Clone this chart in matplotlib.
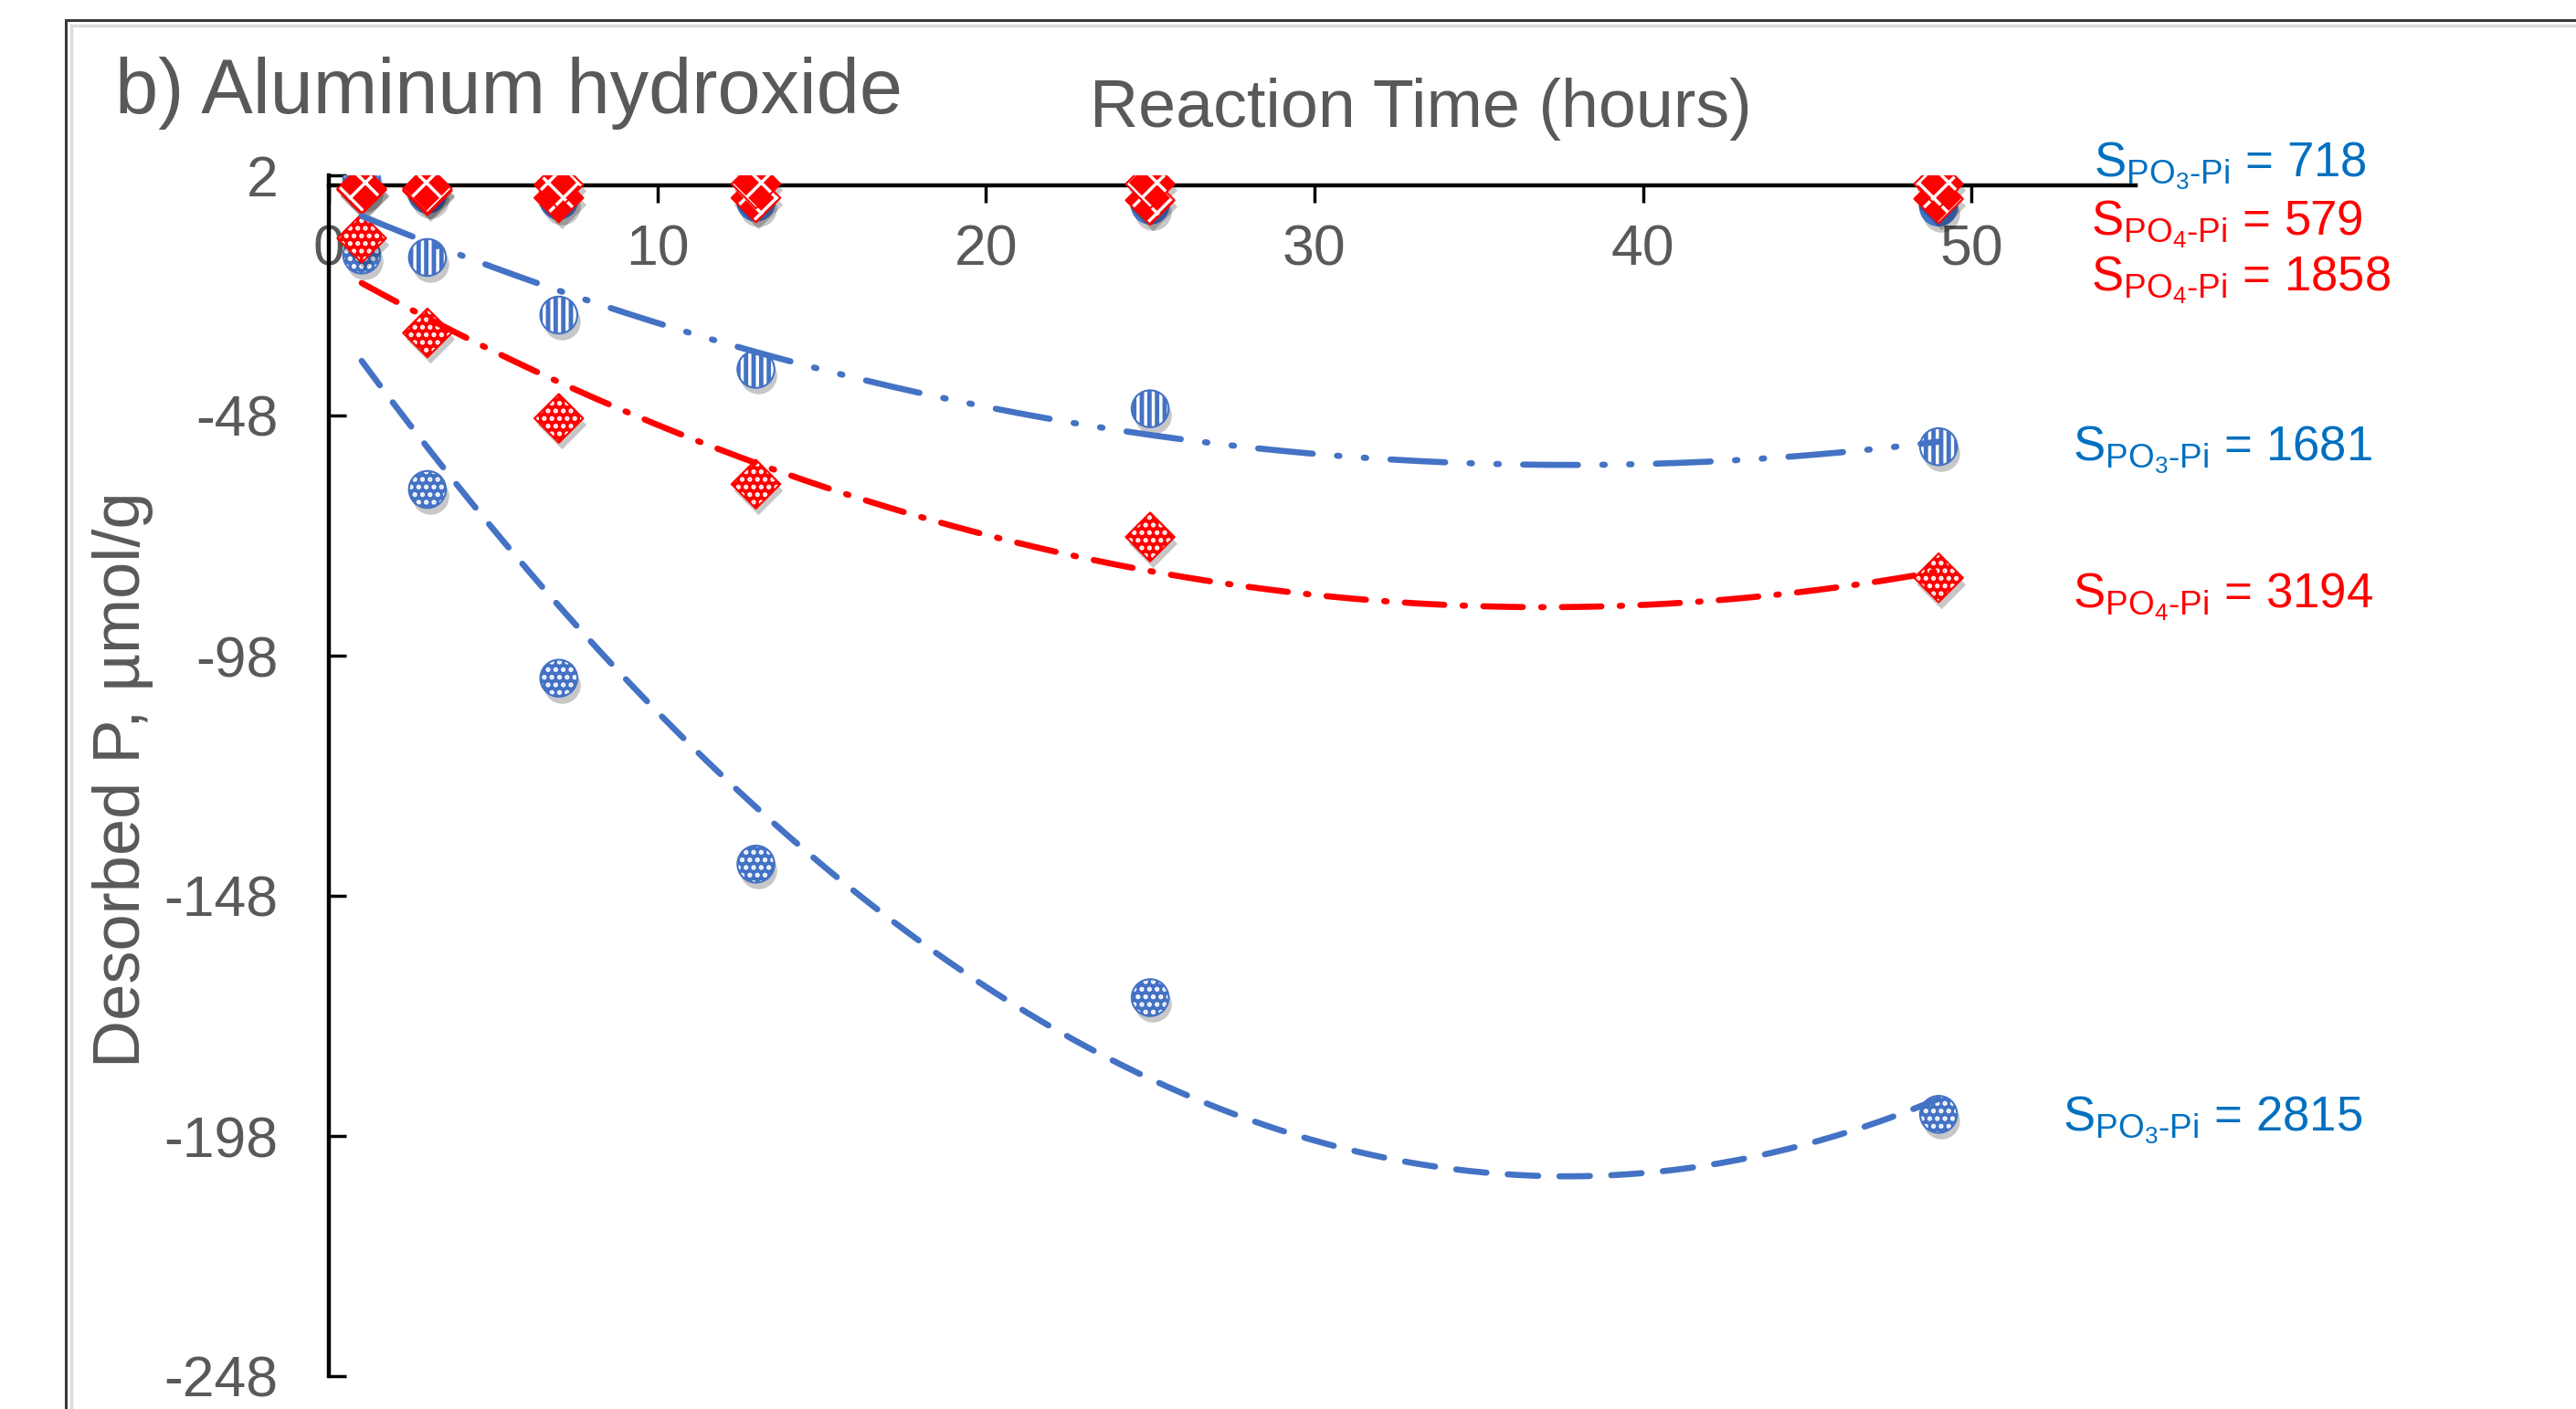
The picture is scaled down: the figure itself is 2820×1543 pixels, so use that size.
import numpy as np
import matplotlib
matplotlib.use('Agg')
import matplotlib.pyplot as plt
import matplotlib.transforms as mtransforms
from matplotlib.patches import Rectangle

plt.rcParams['font.family'] = ['Liberation Sans', 'DejaVu Sans']
plt.rcParams['mathtext.fontset'] = 'custom'
plt.rcParams['mathtext.rm'] = 'Liberation Sans'
plt.rcParams['mathtext.it'] = 'Liberation Sans'
plt.rcParams['axes.unicode_minus'] = False
plt.rcParams['hatch.linewidth'] = 2.5

# reaction times (hours) and desorbed P (umol/g)
hours = [1, 3, 7, 13, 25, 49]
po3_718 = [-0.5, -1.9, -3.2, -3.6, -4.2, -4.6]
po3_1681 = [1.0, -15.1, -27.1, -38.4, -46.6, -54.5]
po3_2815 = [-14.6, -63.4, -102.7, -141.4, -169.2, -193.5]
po4_579 = [-0.8, -0.8, 0.0, 0.2, 0.2, 0.2]
po4_1858 = [-1.0, -1.2, -2.7, -2.7, -3.2, -2.9]
po4_3194 = [-11.1, -30.8, -48.6, -62.3, -73.3, -81.8]

x_ticks = [0, 10, 20, 30, 40, 50]
y_ticks = [2, -48, -98, -148, -198, -248]

BLUE = '#4472C4'
RED = '#FF0000'
TXT_BLUE = '#0070C0'
GRAY = '#595959'

W, H = 2820, 1543
fig = plt.figure(figsize=(W / 100, H / 100), dpi=100)
ax = fig.add_axes([360 / W, 1 - 1507 / H, (2338 - 360) / W, (1507 - 192) / H])
ax.set_xlim(0, 55)
ax.set_ylim(-248, 2)

# outer frame of the chart area
fig.add_artist(Rectangle((72 / W, -0.1), 1.2, 1 - 22 / H + 0.1, transform=fig.transFigure,
                         fill=False, edgecolor='#3a3a3a', lw=2.2))
fig.add_artist(Rectangle((78 / W, -0.1), 1.2, 1 - 28 / H + 0.1, transform=fig.transFigure,
                         fill=False, edgecolor='#dcdcdc', lw=2.5))

shadow = mtransforms.offset_copy(ax.transData, fig=fig, x=2, y=-5, units='points')


def markers(y, marker, color, hatch, size, z):
    ax.scatter(hours, y, s=size, marker=marker, color='k', alpha=0.22, lw=0,
               transform=shadow, zorder=z - 0.5)
    ax.scatter(hours, y, s=size, marker=marker, facecolor=color, edgecolor='white',
               hatch=hatch, lw=0, zorder=z)
    ax.scatter(hours, y, s=size, marker=marker, facecolor='none', edgecolor=color,
               lw=1.5, zorder=z + 0.1)


def trend(y, color, dashes, z):
    c = np.polyfit(hours, y, 2)
    xs = np.linspace(hours[0], hours[-1], 300)
    ax.plot(xs, np.polyval(c, xs), color=color, lw=4.8, dashes=dashes,
            solid_capstyle='round', dash_capstyle='round', zorder=z)


circ = 850
diam = 740
markers(po3_2815, 'o', BLUE, '..', circ, 3)
markers(po3_1681, 'o', BLUE, '||', circ, 3.2)
markers(po3_718, 'o', BLUE, None, circ, 3.4)
markers(po4_3194, 'D', RED, '..', diam, 4)
markers(po4_1858, 'D', RED, 'x', diam, 4.2)
markers(po4_579, 'D', RED, 'x', diam, 4.4)

trend(po3_2815, BLUE, (5, 3.5), 5)
trend(po3_1681, BLUE, (9, 4, 0.4, 4, 0.4, 4), 5)
trend(po4_3194, RED, (6.5, 3, 0.4, 3), 5)

# axes styling
for s in ['top', 'right']:
    ax.spines[s].set_visible(False)
ax.spines['bottom'].set_position(('data', 0))
ax.spines['left'].set_linewidth(3.2)
ax.spines['bottom'].set_linewidth(3.2)
ax.set_xticks(x_ticks)
ax.set_yticks(y_ticks)
ax.tick_params(axis='x', direction='out', length=14, width=2.5, pad=16,
               labelsize=45, labelcolor=GRAY)
ax.tick_params(axis='y', direction='in', length=14, width=2.5, pad=40,
               labelsize=45, labelcolor=GRAY)

fig.text(126 / W, 1 - 102 / H, 'b) Aluminum hydroxide', fontsize=61, color=GRAY,
         ha='left', va='center')
fig.text(1555 / W, 1 - 120 / H, 'Reaction Time (hours)', fontsize=53, color=GRAY,
         ha='center', va='center')
fig.text(135 / W, 1 - 854 / H, 'Desorbed P, µmol/g', fontsize=52, color=GRAY,
         rotation=90, ha='center', va='center')

po3 = r'S$_{PO_3\text{-}Pi}$ = '
po4 = r'S$_{PO_4\text{-}Pi}$ = '
labels = [
    (2292, 181, po3 + '718', TXT_BLUE),
    (2289, 246, po4 + '579', RED),
    (2289, 307, po4 + '1858', RED),
    (2269, 492, po3 + '1681', TXT_BLUE),
    (2269, 654, po4 + '3194', RED),
    (2258, 1226, po3 + '2815', TXT_BLUE),
]
for x, y, t, c in labels:
    fig.text(x / W, 1 - y / H, t, fontsize=38, color=c, ha='left', va='center')

fig.savefig('out.png', dpi=100)
